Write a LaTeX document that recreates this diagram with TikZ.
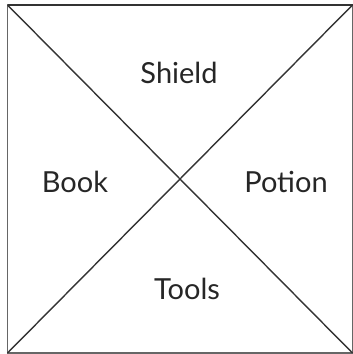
\documentclass[tikz,border=0pt]{standalone}
\usepackage{fontspec}
\setmainfont{Lato}
\begin{document}
\begin{tikzpicture}[x=1pt,y=-1pt,
  edge/.style={draw=black!80,line width=1.4pt},
  lbl/.style={anchor=base,inner sep=0pt,font=\fontsize{29}{34}\selectfont,text=black!85}]
\useasboundingbox (0,0) rectangle (353,354);
\coordinate (tl) at (7.5,5);
\coordinate (tr) at (352.5,5);
\coordinate (bl) at (7.5,353);
\coordinate (br) at (352.5,353);
\draw[edge,draw=black!60] (tl) rectangle (br);
\draw[edge,draw=black!80] (tl) -- (tr);
\draw[edge] (tl) -- (br);
\draw[edge] (tr) -- (bl);
\node[lbl] (shield) at (179,83.3) {Shield};
\node[lbl] (book) at (75,192.7) {Book};
\node[lbl] (potion) at (286,192.7) {Potion};
\node[lbl] (tools) at (187,299) {Tools};
\end{tikzpicture}
\end{document}
